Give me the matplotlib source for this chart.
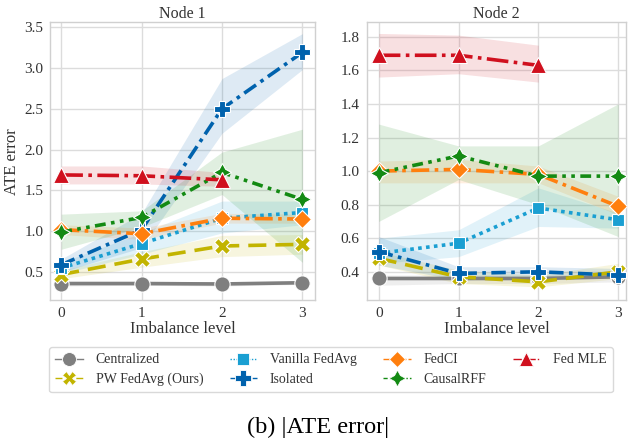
import numpy as np
import matplotlib
matplotlib.use("Agg")
import matplotlib.pyplot as plt
from matplotlib.lines import Line2D

plt.rcParams['font.family'] = ['Liberation Serif', 'DejaVu Serif']

levels = [0, 1, 2, 3]
methods = ["Centralized", "PW FedAvg (Ours)", "Vanilla FedAvg", "Isolated",
           "FedCI", "CausalRFF", "Fed MLE"]

# Node 1 mean |ATE error| and band (low, high)
node1_mean = {
    "Centralized":      [0.36, 0.36, 0.355, 0.37],
    "PW FedAvg (Ours)": [0.47, 0.66, 0.82, 0.84],
    "Vanilla FedAvg":   [0.55, 0.85, 1.16, 1.23],
    "Isolated":         [0.59, 1.02, 2.50, 3.19],
    "FedCI":            [1.02, 0.97, 1.16, 1.15],
    "CausalRFF":        [0.99, 1.17, 1.72, 1.39],
    "Fed MLE":          [1.69, 1.68, 1.63],
}
node1_low = {
    "Centralized":      [0.33, 0.34, 0.33, 0.35],
    "PW FedAvg (Ours)": [0.42, 0.56, 0.69, 0.72],
    "Vanilla FedAvg":   [0.48, 0.72, 0.98, 1.08],
    "Isolated":         [0.50, 0.80, 2.20, 2.98],
    "FedCI":            [0.96, 0.90, 1.10, 1.10],
    "CausalRFF":        [0.78, 1.05, 1.45, 0.62],
    "Fed MLE":          [1.58, 1.58, 1.55],
}
node1_high = {
    "Centralized":      [0.39, 0.39, 0.38, 0.39],
    "PW FedAvg (Ours)": [0.52, 0.75, 0.95, 0.96],
    "Vanilla FedAvg":   [0.62, 0.98, 1.37, 1.37],
    "Isolated":         [0.66, 1.22, 2.87, 3.42],
    "FedCI":            [1.08, 1.04, 1.22, 1.21],
    "CausalRFF":        [1.21, 1.25, 1.97, 2.25],
    "Fed MLE":          [1.80, 1.80, 1.72],
}

# Node 2 mean |ATE error| and band (low, high)
node2_mean = {
    "Centralized":      [0.36, 0.36, 0.36, 0.37],
    "PW FedAvg (Ours)": [0.48, 0.37, 0.34, 0.40],
    "Vanilla FedAvg":   [0.51, 0.57, 0.78, 0.71],
    "Isolated":         [0.52, 0.39, 0.40, 0.38],
    "FedCI":            [1.00, 1.01, 0.98, 0.79],
    "CausalRFF":        [0.99, 1.09, 0.97, 0.97],
    "Fed MLE":          [1.69, 1.69, 1.63],
}
node2_low = {
    "Centralized":      [0.32, 0.33, 0.33, 0.34],
    "PW FedAvg (Ours)": [0.44, 0.33, 0.31, 0.36],
    "Vanilla FedAvg":   [0.45, 0.49, 0.67, 0.66],
    "Isolated":         [0.44, 0.35, 0.37, 0.36],
    "FedCI":            [0.93, 0.93, 0.93, 0.74],
    "CausalRFF":        [0.70, 0.95, 0.80, 0.61],
    "Fed MLE":          [1.56, 1.58, 1.53],
}
node2_high = {
    "Centralized":      [0.38, 0.38, 0.38, 0.39],
    "PW FedAvg (Ours)": [0.52, 0.41, 0.38, 0.45],
    "Vanilla FedAvg":   [0.60, 0.65, 0.90, 0.75],
    "Isolated":         [0.61, 0.43, 0.43, 0.42],
    "FedCI":            [1.06, 1.07, 1.03, 0.85],
    "CausalRFF":        [1.28, 1.15, 1.15, 1.40],
    "Fed MLE":          [1.82, 1.81, 1.75],
}

star4 = (4, 1, 0)
styles = {
    "Centralized":      dict(color="#7f7f7f", ls="-",  marker="o"),
    "PW FedAvg (Ours)": dict(color="#c2b400", ls=(0, (5, 2.5)), marker="X"),
    "Vanilla FedAvg":   dict(color="#1a9fd2", ls=(0, (1, 1.2)), marker="s"),
    "Isolated":         dict(color="#0062ad", ls=(0, (4, 1.5, 1, 1.5)), marker="P"),
    "FedCI":            dict(color="#ff7f0e", ls=(0, (5, 1.5, 1, 1.5)), marker="D"),
    "CausalRFF":        dict(color="#138a13", ls=(0, (3, 1.5, 1, 1.5, 1, 1.5)), marker=star4),
    "Fed MLE":          dict(color="#d0101e", ls=(0, (6, 1.5, 1, 1.5)), marker="^"),
}
msizes = {"Centralized": 11, "PW FedAvg (Ours)": 11, "Vanilla FedAvg": 9,
          "Isolated": 12, "FedCI": 9, "CausalRFF": 13, "Fed MLE": 11}

fig = plt.figure(figsize=(6.28, 4.44), dpi=100)
ax1 = fig.add_axes([0.080, 0.324, 0.422, 0.626])
ax2 = fig.add_axes([0.584, 0.324, 0.413, 0.626])

def draw(ax, mean, low, high):
    for m in methods:
        st = styles[m]
        x = levels[:len(mean[m])]
        ax.fill_between(x, low[m], high[m], color=st["color"], alpha=0.13, lw=0)
        ax.plot(x, mean[m], color=st["color"], ls=st["ls"], lw=2.6,
                marker=st["marker"], markersize=msizes[m],
                markeredgecolor="white", markeredgewidth=0.8, zorder=3)
    ax.set_facecolor("white")
    ax.grid(True, color="#dcdcdc", lw=1.0)
    ax.set_axisbelow(True)
    for s in ax.spines.values():
        s.set_color("#d0d0d0")
        s.set_linewidth(1.0)
    ax.tick_params(length=0, labelsize=11, colors="#333333", pad=5)
    ax.set_xticks(levels)
    ax.set_xlabel("Imbalance level", fontsize=12, color="#333333", labelpad=1)

draw(ax1, node1_mean, node1_low, node1_high)
ax1.set_xlim(-0.137, 3.16)
ax1.set_ylim(0.157, 3.56)
ax1.set_yticks([0.5, 1.0, 1.5, 2.0, 2.5, 3.0, 3.5])
ax1.set_ylabel("ATE error", fontsize=12, color="#333333", labelpad=3)
ax1.set_title("Node 1", fontsize=11.5, color="#333333", pad=3)

draw(ax2, node2_mean, node2_low, node2_high)
ax2.set_xlim(-0.15, 3.1)
ax2.set_ylim(0.231, 1.887)
ax2.set_yticks([0.4, 0.6, 0.8, 1.0, 1.2, 1.4, 1.6, 1.8])
ax2.set_title("Node 2", fontsize=11.5, color="#333333", pad=3)

order = ["Centralized", "PW FedAvg (Ours)", "Vanilla FedAvg", "Isolated",
         "FedCI", "CausalRFF", "Fed MLE"]
handles = []
for m in order:
    st = styles[m]
    handles.append(Line2D([], [], color=st["color"], ls=st["ls"], lw=1.0,
                          marker=st["marker"], markersize=msizes[m] - 1,
                          markeredgecolor="white", markeredgewidth=0.6))
fig.legend(handles, order, loc="center", bbox_to_anchor=(0.527, 0.167),
           ncol=4, fontsize=10, frameon=True, edgecolor="#d0d0d0",
           handlelength=2.0, columnspacing=1.9, handletextpad=0.9,
           borderpad=0.45, labelspacing=0.45, fancybox=True, labelcolor="#333333")

fig.text(0.507, 0.038, "(b) |ATE error|", ha="center", va="center", fontsize=17.5)

fig.savefig("out.png", dpi=100)
